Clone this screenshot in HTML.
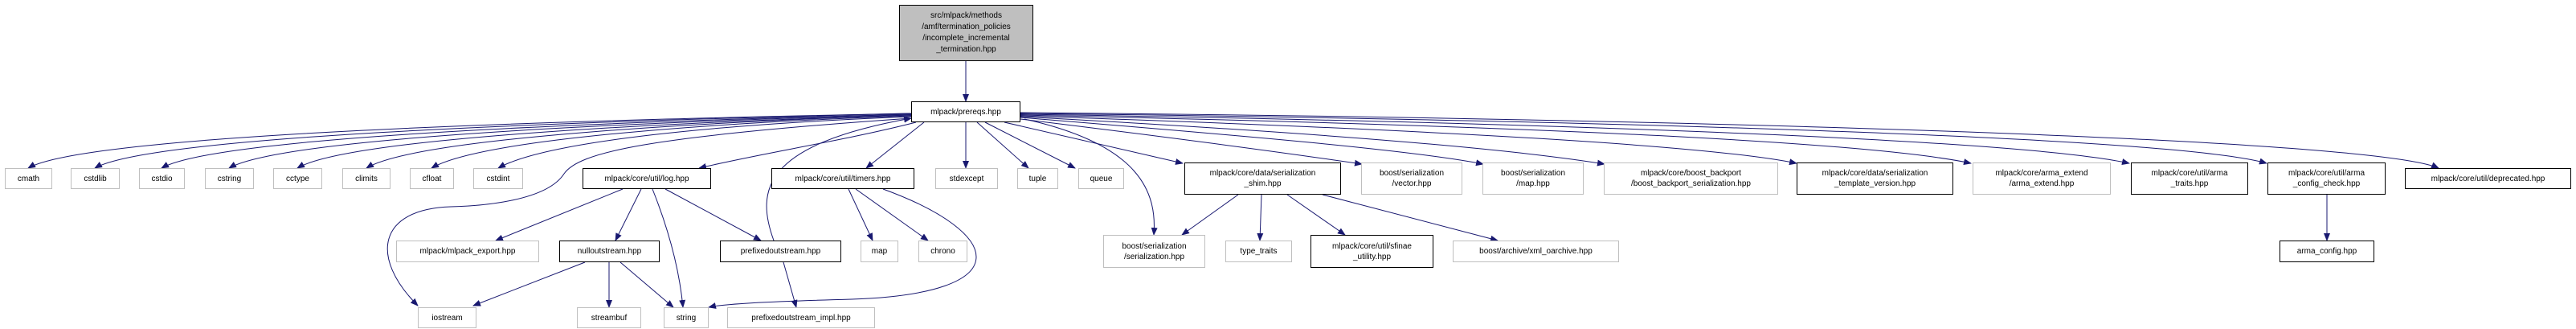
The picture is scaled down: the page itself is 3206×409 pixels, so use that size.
<!DOCTYPE html>
<html><head><meta charset="utf-8"><style>
body{margin:0;width:3206px;height:409px;background:#fff;position:relative;overflow:hidden;font-family:"Liberation Sans",sans-serif;}
.n{position:absolute;box-sizing:border-box;border:1px solid #bfbfbf;background:#fff;font-size:10px;line-height:13px;color:#000;display:flex;align-items:center;justify-content:center;text-align:center;white-space:nowrap;}
.b{border:1px solid #000;}
svg{position:absolute;left:0;top:0;}
</style></head><body>
<svg width="3206" height="409" viewBox="0 0 3206 409">
<defs><marker id="a" markerWidth="10" markerHeight="8" refX="9" refY="4" orient="auto" markerUnits="userSpaceOnUse"><path d="M0,0 L10,4 L0,8 Z" fill="#191970"/></marker></defs>
<g fill="none" stroke="#191970" stroke-width="1" marker-end="url(#a)">
<path d="M1202,76 L1202,126"/>
<path d="M1134,141 C900,146 120,160 35,209"/>
<path d="M1134,141 C900,147 200,162 118,209"/>
<path d="M1134,142 C900,148 280,164 201,209"/>
<path d="M1134,142 C900,149 360,166 285,209"/>
<path d="M1134,143 C900,150 440,168 370,209"/>
<path d="M1134,143 C900,151 520,170 456,209"/>
<path d="M1134,144 C900,152 600,172 537,209"/>
<path d="M1134,145 C900,154 680,175 620,209"/>
<path d="M1140,152 C1050,175 950,190 870,209"/>
<path d="M1134,147 C800,170 720,190 702,216 C680,250 600,256 561,257 C470,260 460,320 520,380"/>
<path d="M1150,152 L1078,209"/>
<path d="M1202,152 L1202,209"/>
<path d="M1216,152 L1280,209"/>
<path d="M1226,152 L1338,209"/>
<path d="M1250,152 L1472,203"/>
<path d="M1270,148 C1450,170 1600,190 1695,204"/>
<path d="M1270,146 C1500,165 1750,185 1846,204"/>
<path d="M1270,145 C1550,160 1850,180 1997,204"/>
<path d="M1270,144 C1600,155 2100,175 2236,203"/>
<path d="M1270,143 C1700,152 2300,170 2453,203"/>
<path d="M1270,142 C1800,150 2500,170 2650,203"/>
<path d="M1270,141 C1900,148 2700,168 2821,203"/>
<path d="M1270,140 C2000,146 2950,170 3035,209"/>
<path d="M1275,148 C1420,180 1440,240 1436,292"/>
<path d="M775,235 L617,299"/>
<path d="M798,235 L766,299"/>
<path d="M812,235 C830,280 845,330 850,382"/>
<path d="M828,235 L947,299"/>
<path d="M963,299 C940,236 950,180 1134,147"/>
<path d="M975,326 L991,382"/>
<path d="M728,326 L589,380"/>
<path d="M758,326 L758,382"/>
<path d="M772,326 L838,382"/>
<path d="M1056,235 L1086,299"/>
<path d="M1065,235 L1155,299"/>
<path d="M1099,235 C1250,290 1270,365 1060,372 C950,375 900,378 882,382"/>
<path d="M1541,242 L1471,292"/>
<path d="M1570,242 L1568,299"/>
<path d="M1602,242 L1674,292"/>
<path d="M1646,242 L1864,299"/>
<path d="M2896,242 L2896,299"/>
</g></svg>
<div class="n b" style="left:1119px;top:6px;width:167px;height:70px;background:#bfbfbf;line-height:14px;">src/mlpack/methods<br>/amf/termination_policies<br>/incomplete_incremental<br>_termination.hpp</div>
<div class="n b" style="left:1134px;top:126px;width:136px;height:26px;">mlpack/prereqs.hpp</div>
<div class="n" style="left:6px;top:209px;width:59px;height:26px;">cmath</div>
<div class="n" style="left:88px;top:209px;width:61px;height:26px;">cstdlib</div>
<div class="n" style="left:173px;top:209px;width:57px;height:26px;">cstdio</div>
<div class="n" style="left:255px;top:209px;width:61px;height:26px;">cstring</div>
<div class="n" style="left:340px;top:209px;width:61px;height:26px;">cctype</div>
<div class="n" style="left:426px;top:209px;width:60px;height:26px;">climits</div>
<div class="n" style="left:510px;top:209px;width:55px;height:26px;">cfloat</div>
<div class="n" style="left:589px;top:209px;width:62px;height:26px;">cstdint</div>
<div class="n b" style="left:725px;top:209px;width:160px;height:26px;">mlpack/core/util/log.hpp</div>
<div class="n b" style="left:960px;top:209px;width:178px;height:26px;">mlpack/core/util/timers.hpp</div>
<div class="n" style="left:1164px;top:209px;width:78px;height:26px;">stdexcept</div>
<div class="n" style="left:1266px;top:209px;width:51px;height:26px;">tuple</div>
<div class="n" style="left:1342px;top:209px;width:57px;height:26px;">queue</div>
<div class="n b" style="left:1474px;top:202px;width:195px;height:40px;">mlpack/core/data/serialization<br>_shim.hpp</div>
<div class="n" style="left:1694px;top:202px;width:126px;height:40px;">boost/serialization<br>/vector.hpp</div>
<div class="n" style="left:1845px;top:202px;width:126px;height:40px;">boost/serialization<br>/map.hpp</div>
<div class="n" style="left:1996px;top:202px;width:217px;height:40px;">mlpack/core/boost_backport<br>/boost_backport_serialization.hpp</div>
<div class="n b" style="left:2236px;top:202px;width:195px;height:40px;">mlpack/core/data/serialization<br>_template_version.hpp</div>
<div class="n" style="left:2455px;top:202px;width:172px;height:40px;">mlpack/core/arma_extend<br>/arma_extend.hpp</div>
<div class="n b" style="left:2652px;top:202px;width:146px;height:40px;">mlpack/core/util/arma<br>_traits.hpp</div>
<div class="n b" style="left:2822px;top:202px;width:147px;height:40px;">mlpack/core/util/arma<br>_config_check.hpp</div>
<div class="n b" style="left:2993px;top:209px;width:207px;height:26px;">mlpack/core/util/deprecated.hpp</div>
<div class="n" style="left:493px;top:299px;width:178px;height:27px;">mlpack/mlpack_export.hpp</div>
<div class="n b" style="left:696px;top:299px;width:125px;height:27px;">nulloutstream.hpp</div>
<div class="n b" style="left:896px;top:299px;width:151px;height:27px;">prefixedoutstream.hpp</div>
<div class="n" style="left:1071px;top:299px;width:47px;height:27px;">map</div>
<div class="n" style="left:1143px;top:299px;width:61px;height:27px;">chrono</div>
<div class="n" style="left:1373px;top:292px;width:127px;height:41px;">boost/serialization<br>/serialization.hpp</div>
<div class="n" style="left:1525px;top:299px;width:83px;height:27px;">type_traits</div>
<div class="n b" style="left:1631px;top:292px;width:153px;height:41px;">mlpack/core/util/sfinae<br>_utility.hpp</div>
<div class="n" style="left:1808px;top:299px;width:207px;height:27px;">boost/archive/xml_oarchive.hpp</div>
<div class="n b" style="left:2837px;top:299px;width:118px;height:27px;">arma_config.hpp</div>
<div class="n" style="left:520px;top:382px;width:73px;height:26px;">iostream</div>
<div class="n" style="left:718px;top:382px;width:80px;height:26px;">streambuf</div>
<div class="n" style="left:826px;top:382px;width:56px;height:26px;">string</div>
<div class="n" style="left:905px;top:382px;width:184px;height:26px;">prefixedoutstream_impl.hpp</div>
</body></html>
